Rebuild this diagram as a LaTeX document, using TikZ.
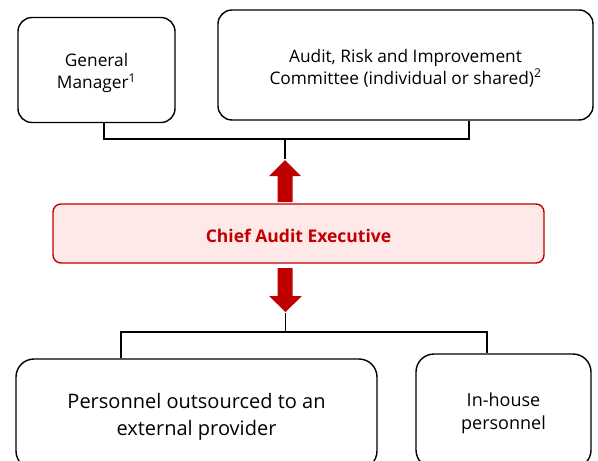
\documentclass[tikz,border=0pt]{standalone}
\usepackage{fontspec}
\setmainfont{Open Sans}
\definecolor{caered}{HTML}{C00000}
\definecolor{caefill}{HTML}{FFE8E8}
\begin{document}
\begin{tikzpicture}[x=1pt,y=-1pt,
  box/.style={draw=black,line width=1.4pt,rounded corners=14pt,inner sep=0pt},
  txt/.style={align=center,inner sep=0pt},
  conn/.style={draw=black,line width=1.4pt},
  redarrow/.style={fill=caered,draw=none},
  topfont/.style={font=\fontsize{17.3}{22}\selectfont},
]
\clip (0,0) rectangle (598,461);
\useasboundingbox (0,0) rectangle (598,461);

\node[box,minimum width=157pt,minimum height=105pt] (gm) at (96.5,70) {};
\node[txt,topfont] (gmt) at ([yshift=-3pt]gm.center) {General\\Manager\textsuperscript{1}};
\node[box,minimum width=375pt,minimum height=110pt] (aric) at (405.5,65) {};
\node[txt,topfont] (arict) at ([yshift=-3pt]aric.center) {Audit, Risk and Improvement\\Committee (individual or shared)\textsuperscript{2}};
\node[draw=caered,fill=caefill,line width=1.4pt,rounded corners=8pt,minimum width=491pt,minimum height=59pt,inner sep=0pt] (cae) at (298.5,233.5) {};
\node[txt,text=caered,font=\fontsize{17.5}{20}\selectfont\bfseries] (caet) at ([yshift=-2pt]cae.center) {Chief Audit Executive};
\node[box,rounded corners=18pt,minimum width=361pt,minimum height=110pt] (out) at (196.5,414) {};
\node[txt,font=\fontsize{20}{27}\selectfont] (outt) at ([yshift=-2.5pt]out.center) {Personnel outsourced to an\\external provider};
\node[box,rounded corners=18pt,minimum width=175pt,minimum height=114pt] (inh) at (503.5,411) {};
\node[txt,font=\fontsize{18}{23}\selectfont] (inht) at ([yshift=-2.5pt]inh.center) {In-house\\personnel};

% up arrow
\fill[redarrow] (277.5,202) -- (277.5,176) -- (269,176) -- (285,160) -- (301,176) -- (292.5,176) -- (292.5,202) -- cycle;
\coordinate (uptip) at (285,159);
% down arrow
\fill[redarrow] (277.5,268) -- (277.5,296) -- (269,296) -- (285.5,312) -- (302,296) -- (292.5,296) -- (292.5,268) -- cycle;
\coordinate (downtip) at (285.5,313);

\coordinate (topbus) at (285,139);
\coordinate (botbus) at (285.5,332);

\draw[conn] ([xshift=7.5pt]gm.south) |- (topbus) -| ([xshift=63.5pt]aric.south);
\draw[conn] (topbus) -- (uptip);
\draw[conn] (downtip) -- (botbus);
\draw[conn] ([xshift=-75.5pt]out.north) |- (botbus) -| ([xshift=-16.5pt]inh.north);
\end{tikzpicture}
\end{document}
